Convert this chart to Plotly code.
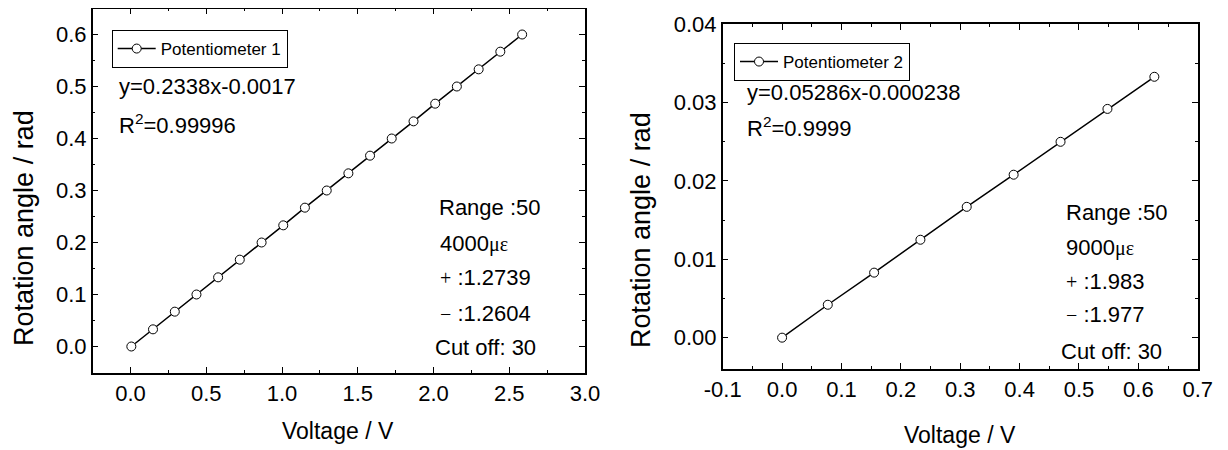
import plotly.graph_objects as go

# ---------------- data ----------------
volt_1 = [0.005, 0.148, 0.292, 0.435, 0.578, 0.721, 0.865, 1.008, 1.151, 1.295,
          1.438, 1.581, 1.724, 1.868, 2.011, 2.154, 2.298, 2.441, 2.585]
angle_1 = [0.000, 0.033, 0.067, 0.100, 0.133, 0.167, 0.200, 0.233, 0.267, 0.300,
           0.333, 0.367, 0.400, 0.433, 0.467, 0.500, 0.533, 0.567, 0.600]

volt_2 = [0.000, 0.077, 0.155, 0.233, 0.311, 0.390, 0.469, 0.548, 0.627]
angle_2 = [0.0000, 0.0042, 0.0083, 0.0125, 0.0167, 0.0208, 0.0250, 0.0292, 0.0333]

x2_tickvals = [-0.1, 0.0, 0.1, 0.2, 0.3, 0.4, 0.5, 0.6, 0.7]
x2_ticktext = ["-0.1", "0.0", "0.1", "0.2", "0.3", "0.4", "0.5", "0.6", "0.7"]

name_1 = "Potentiometer 1"
name_2 = "Potentiometer 2"
fit_1 = ["y=0.2338x-0.0017", "R<sup>2</sup>=0.99996"]
fit_2 = ["y=0.05286x-0.000238", "R<sup>2</sup>=0.9999"]
info_1 = ["Range :50", "4000{MU}", "{PLUS} :1.2739", "{MINUS} :1.2604", "Cut off: 30"]
info_2 = ["Range :50", "9000{MU}", "{PLUS} :1.983", "{MINUS} :1.977", "Cut off: 30"]
x_title = "Voltage / V"
y_title = "Rotation angle / rad"

# ---------------- layout helpers ----------------
W, H = 1228, 450
OFF = 8                       # page body margin of the html page
FW, FH = W - OFF, H - OFF     # figure size so that it fits the window exactly
FONT = "Liberation Sans, Arial, sans-serif"
SYM = '<span style="font-family:Liberation Serif;font-size:20px">{}</span>'


def px(x):
    return (x - OFF) / FW


def py(y):
    return 1 - (y - OFF) / FH


def sym(t):
    return (t.replace("{MU}", SYM.format("με"))
             .replace("{PLUS}", SYM.format("+"))
             .replace("{MINUS}", SYM.format("−")))


fig = go.Figure()
marker = dict(symbol="circle", size=9, color="white", line=dict(color="black", width=1))
fig.add_trace(go.Scatter(x=volt_1, y=angle_1, mode="lines+markers", name=name_1,
                         line=dict(color="black", width=1.5), marker=marker,
                         xaxis="x", yaxis="y", legend="legend"))
fig.add_trace(go.Scatter(x=volt_2, y=angle_2, mode="lines+markers", name=name_2,
                         line=dict(color="black", width=1.5), marker=marker,
                         xaxis="x2", yaxis="y2", legend="legend2"))

axis_common = dict(showgrid=False, zeroline=False, showline=True, linecolor="black",
                   linewidth=1.5, mirror="allticks", ticks="inside", ticklen=6,
                   tickwidth=1.2, tickcolor="black", automargin=False,
                   tickfont=dict(family=FONT, size=22, color="black"),
                   minor=dict(ticks="inside", ticklen=3, tickwidth=1.2, tickcolor="black"))

fig.update_layout(
    width=FW, height=FH, margin=dict(l=0, r=0, t=0, b=0, autoexpand=False),
    paper_bgcolor="white", plot_bgcolor="white",
    font=dict(family=FONT, color="black"),
    xaxis=dict(axis_common, domain=[px(92.7), px(585)], range=[-0.25, 3.0],
               tick0=0, dtick=0.5, tickformat=".1f", anchor="y",
               minor=dict(axis_common["minor"], dtick=0.25, tick0=0)),
    yaxis=dict(axis_common, domain=[py(372.5), py(8.5)], range=[-0.05, 0.65],
               tick0=0, dtick=0.1, tickformat=".1f", anchor="x",
               minor=dict(axis_common["minor"], dtick=0.05, tick0=0)),
    xaxis2=dict(axis_common, domain=[px(722.7), px(1197.7)], range=[-0.1, 0.7],
                tickmode="array", tickvals=x2_tickvals, ticktext=x2_ticktext, anchor="y2",
                minor=dict(axis_common["minor"], dtick=0.05, tick0=0)),
    yaxis2=dict(axis_common, domain=[py(369), py(24.3)], range=[-0.004, 0.04],
                tick0=0, dtick=0.01, tickformat=".2f", anchor="x2",
                minor=dict(axis_common["minor"], dtick=0.005, tick0=0)),
    legend=dict(x=px(111.7), y=py(30), xanchor="left", yanchor="top",
                bordercolor="black", borderwidth=1, bgcolor="white",
                font=dict(family=FONT, size=17, color="black"), itemwidth=38),
    legend2=dict(x=px(734), y=py(43), xanchor="left", yanchor="top",
                 bordercolor="black", borderwidth=1, bgcolor="white",
                 font=dict(family=FONT, size=17, color="black"), itemwidth=38),
    showlegend=True,
)

ann = []


def add_text(text, x, y, size=22, xanchor="left", angle=0):
    ann.append(dict(text=text, x=px(x), y=py(y), xref="paper", yref="paper",
                    xanchor=xanchor, yanchor="middle", showarrow=False,
                    textangle=angle, font=dict(family=FONT, size=size, color="black")))


# fit equations
add_text(fit_1[0], 117, 86)
add_text(fit_1[1], 117, 124)
add_text(fit_2[0], 745, 93)
add_text(fit_2[1], 745, 127)

# info blocks
for t, x, y in zip(info_1, [437, 438, 438, 438, 433], [208, 243, 277, 313, 347]):
    add_text(sym(t), x, y)
for t, x, y in zip(info_2, [1064, 1064, 1064, 1064, 1059], [212, 248, 281, 314, 351]):
    add_text(sym(t), x, y)

# axis titles
add_text(x_title, 338, 431, size=23, xanchor="center")
add_text(x_title, 960, 435, size=23, xanchor="center")
add_text(y_title, 24, 228, size=27, xanchor="center", angle=-90)
add_text(y_title, 641, 230, size=27, xanchor="center", angle=-90)

fig.update_layout(annotations=ann)
fig.write_html("out.html")
